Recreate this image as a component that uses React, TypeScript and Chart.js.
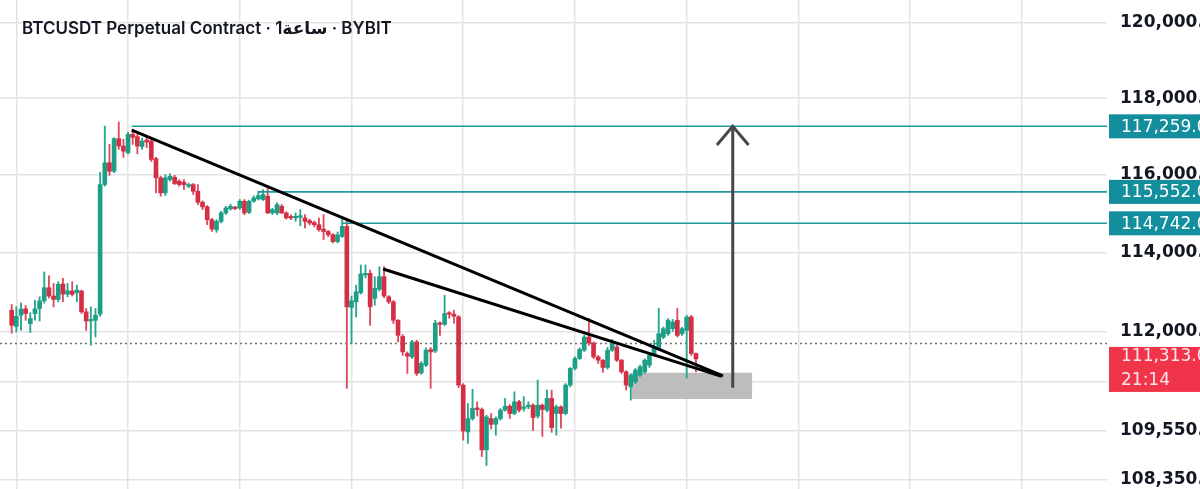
import React, { useEffect, useRef } from 'react';
import { Chart, registerables } from 'chart.js';
Chart.register(...registerables);

// Hourly candles (index = hour)
const opens = [112534,112127,112407,112567,112196,112450,112577,112770,113100,112890,112806,113195,112940,113017,112973,113017,112491,112262,112280,112432,
115741,116307,116087,116936,116742,116569,117049,116988,116730,116900,116873,116412,115915,115527,115871,115930,115827,115801,115697,115741,
115568,115284,115165,114836,114577,114792,115009,115113,115139,115139,115310,115025,115310,115372,115354,115439,115009,115009,115180,115009,
114900,114880,114900,114880,114810,114760,114706,114595,114533,114448,114275,114404,114663,112603,112745,112973,113423,113466,112831,113060,
113380,112872,112745,112280,111876,111448,111364,111735,110968,111159,111547,111510,112211,112178,112465,112432,112363,110664,109509,109839,
110087,110062,109070,109839,109698,109839,110045,110143,109963,110250,110087,110126,110168,109900,110168,110045,110334,109963,110126,109963,
110664,111077,111324,111530,111859,111710,111364,111282,111101,111530,111611,111282,110993,110620,110745,110911,110993,111159,111406,111572,
111859,111943,112069,112280,111943,112026,112363,111448];
const highs = [112679,112618,112710,112650,112470,112780,112872,113500,113405,113212,113253,113340,113212,113253,113169,113042,112577,112618,112577,116061,
117266,116786,116960,117371,116918,117100,117180,117050,116950,116990,116940,116450,115960,116000,116020,115980,115870,115871,115780,115770,
115741,115320,115200,114870,114836,115050,115180,115230,115180,115354,115354,115340,115450,115568,115612,115656,115130,115268,115224,115040,
114960,115009,115095,114965,114850,114800,114880,114965,114560,114480,114520,114880,114836,112890,113169,113677,113677,113550,113380,113634,
113634,112900,112780,112300,111920,111490,111780,111780,111250,111590,111600,112280,112240,112910,112500,112534,112400,110700,110211,110560,
110250,110100,109920,109963,109880,110087,110334,110180,110498,110290,110380,110250,110200,110787,110200,110540,110540,110170,110150,110700,
111100,111364,111590,111901,112323,111740,111400,111300,111600,111800,111650,111300,111020,110950,111077,111160,111320,111450,111776,112577,
112110,112320,112300,112577,112100,112407,112407,111460];
const lows = [111958,111990,112030,112280,111975,112280,112262,112712,112840,112618,112745,112745,112872,112890,112745,112450,112026,111654,111859,112380,
115700,115980,116050,116655,116446,116530,116786,116540,116655,116700,116340,115527,115439,115460,115830,115740,115700,115612,115660,115483,
115224,115095,114706,114533,114510,114750,114965,115080,115090,115095,114965,114990,115280,115340,115330,114990,114965,114965,114990,114850,
114836,114792,114680,114621,114700,114650,114540,114319,114400,114240,114240,114380,110582,111696,112363,112940,113350,112153,112660,113020,
112850,112700,112200,111735,111400,110953,111320,110900,110930,111120,110582,111470,111900,112150,112330,112204,110600,109310,109231,109800,
109900,108909,108693,109580,109430,109800,110020,109839,109930,110000,110020,110080,109550,109850,109400,110000,109500,109430,109600,109930,
110620,111040,111300,111500,111654,111320,111200,110980,111060,111500,111250,110950,110540,110292,110700,110880,110950,111100,111380,111540,
111820,111900,112000,111860,111900,110837,111400,110993];
const closes = [112153,112381,112560,112450,112323,112567,112770,113101,112890,112806,113187,112940,113024,112933,113042,112491,112262,112297,112407,115741,
116307,116087,116936,116742,116611,117049,116970,116742,116873,116847,116393,115915,115527,115915,115956,115767,115741,115741,115741,115568,
115284,115165,114836,114595,114792,115009,115139,115180,115120,115310,115009,115310,115398,115455,115483,115009,115095,115224,115009,114880,
114880,114921,114921,114792,114750,114706,114577,114533,114448,114275,114448,114663,112618,112770,112999,113449,113466,112618,113085,113380,
112890,112745,112280,111901,111488,111381,111735,110953,111201,111530,111488,112211,112178,112450,112432,112381,110664,109533,109839,110087,
110062,109070,109879,109698,109839,110045,110143,109963,110250,110045,110126,110168,109864,110168,110062,110334,109617,110126,109963,110664,
111077,111324,111547,111859,111710,111364,111282,111101,111530,111696,111282,110993,110664,110911,111035,111116,111282,111406,111611,111943,
112069,112280,112237,111901,112069,112363,111448,111313];

const yTickValues = [108350, 109550, 110750, 112000, 114000, 116000, 118000, 120000];
const unlabeledTicks = [110750];
const xGridHours = [1, 25, 49, 73, 97, 121, 145, 169, 193, 217];
const xMin = -2.51;
const xMax = 235.3;
const yMin = 108121;
const yMax = 120620;

const levelPrices = [117259, 115552, 114742];
const levelStartHours = [25.8, 52.9, 71.0];
const lastPrice = 111313;
const countdown = '21:14';
const prevClose = 111700;

const trendA = [{ x: 25.8, y: 117162 }, { x: 152.8, y: 110890 }];
const trendB = [{ x: 79.8, y: 113575 }, { x: 152.5, y: 110880 }];
const zoneHours = [133.2, 159.1];
const zonePrices = [110319, 110970];
const arrowShaft = [{ x: 154.9, y: 110599 }, { x: 154.9, y: 117259 }];
const arrowHead = [{ x: 151.5, y: 116769 }, { x: 154.9, y: 117259 }, { x: 158.3, y: 116769 }];

const titleText = 'BTCUSDT Perpetual Contract · 1ساعة · BYBIT';

const UP = '#1c9f86';
const DOWN = '#d42f44';
const UP_WICK = '#27a58d';
const DOWN_WICK = '#dc4a5d';
const TEAL_LINE = '#1f98a3';
const TEAL_BOX = '#128e9c';

const fmt = (v: number) =>
  v.toLocaleString('en-US', { minimumFractionDigits: 1, maximumFractionDigits: 1 });

export default function App() {
  const ref = useRef<HTMLCanvasElement | null>(null);
  useEffect(() => {
    document.body.style.margin = '0';
    const canvas = ref.current;
    if (!canvas) return;
    const idx = opens.map((_, i) => i);
    const isUp = idx.map((i) => closes[i] >= opens[i]);

    const overlay = {
      id: 'overlay',
      afterDraw(chart: any) {
        const { ctx, chartArea, scales } = chart;
        const ys = scales.y;
        const W = chart.width;
        ctx.save();
        ctx.textBaseline = 'middle';
        ctx.textAlign = 'left';
        levelPrices.forEach((p) => {
          const py = ys.getPixelForValue(p);
          ctx.fillStyle = TEAL_BOX;
          ctx.fillRect(chartArea.right + 2, py - 12, W - chartArea.right - 2, 24);
          ctx.fillStyle = '#ffffff';
          ctx.font = '17px "DejaVu Sans"';
          ctx.fillText(fmt(p), chartArea.right + 14, py + 1);
        });
        const lp = ys.getPixelForValue(lastPrice);
        ctx.fillStyle = '#f0354b';
        ctx.fillRect(chartArea.right + 2, lp - 12, W - chartArea.right - 2, 45);
        ctx.fillStyle = '#ffe6ea';
        ctx.font = '17px "DejaVu Sans"';
        ctx.fillText(fmt(lastPrice), chartArea.right + 14, lp - 2);
        ctx.fillText(countdown, chartArea.right + 14, lp + 22);
        ctx.fillStyle = '#131722';
        ctx.font = '600 17px Inter, "DejaVu Sans"';
        ctx.fillText(titleText, 22, 29);
        ctx.restore();
      },
    };

    const lineBase = { type: 'line', pointRadius: 0, fill: false, tension: 0 } as any;

    const chart = new Chart(canvas, {
      type: 'bar',
      data: {
        datasets: [
          {
            ...lineBase,
            data: [{ x: zoneHours[0], y: zonePrices[1] }, { x: zoneHours[1], y: zonePrices[1] }],
            borderWidth: 0,
            borderColor: 'rgba(0,0,0,0)',
            backgroundColor: '#bdbdbd',
            fill: '+1',
            order: 20,
          },
          {
            ...lineBase,
            data: [{ x: zoneHours[0], y: zonePrices[0] }, { x: zoneHours[1], y: zonePrices[0] }],
            borderWidth: 0,
            borderColor: 'rgba(0,0,0,0)',
            order: 21,
          },
          {
            ...lineBase,
            data: [{ x: xMin, y: prevClose }, { x: xMax, y: prevClose }],
            borderColor: '#707070',
            borderWidth: 1.5,
            borderDash: [2, 3],
            order: 15,
          },
          {
            type: 'bar',
            data: idx.map((i) => ({ x: i, y: [lows[i], highs[i]] })),
            backgroundColor: idx.map((i) => (isUp[i] ? UP_WICK : DOWN_WICK)),
            barThickness: 1.2,
            grouped: false,
            order: 12,
          },
          {
            type: 'bar',
            data: idx.map((i) => ({ x: i, y: [opens[i], closes[i]] })),
            backgroundColor: idx.map((i) => (isUp[i] ? UP : DOWN)),
            barThickness: 4,
            minBarLength: 1.5,
            grouped: false,
            order: 11,
          },
          ...levelPrices.map((p, k) => ({
            ...lineBase,
            data: [{ x: levelStartHours[k], y: p }, { x: xMax, y: p }],
            borderColor: TEAL_LINE,
            borderWidth: 1.6,
            order: 5,
          })),
          { ...lineBase, data: trendA, borderColor: '#000000', borderWidth: 3, order: 3 },
          { ...lineBase, data: trendB, borderColor: '#000000', borderWidth: 3, order: 3 },
          { ...lineBase, data: arrowShaft, borderColor: '#474747', borderWidth: 3, order: 2 },
          { ...lineBase, data: arrowHead, borderColor: '#474747', borderWidth: 3, order: 2 },
        ],
      } as any,
      options: {
        animation: false,
        responsive: false,
        layout: { padding: 0 },
        plugins: { legend: { display: false }, tooltip: { enabled: false }, title: { display: false } },
        scales: {
          x: {
            type: 'linear',
            min: xMin,
            max: xMax,
            offset: false,
            afterBuildTicks: (s: any) => {
              s.ticks = xGridHours.map((v) => ({ value: v }));
            },
            afterFit: (s: any) => {
              s.height = 0;
              s.paddingLeft = 0;
              s.paddingRight = 0;
            },
            ticks: { display: false },
            grid: { color: '#e3e3e3', lineWidth: 1.5, drawTicks: false, offset: false },
            border: { display: false },
          },
          y: {
            type: 'logarithmic',
            position: 'right',
            min: yMin,
            max: yMax,
            afterBuildTicks: (s: any) => {
              s.ticks = yTickValues.map((v) => ({ value: v }));
            },
            afterFit: (s: any) => {
              s.width = 93;
              s.paddingTop = 0;
              s.paddingBottom = 0;
            },
            grid: { color: '#e3e3e3', lineWidth: 1.5, drawTicks: false },
            border: { display: false },
            ticks: {
              autoSkip: false,
              padding: 13,
              color: '#131722',
              font: { family: '"DejaVu Sans"', weight: 'bold', size: 17 },
              callback: (v: any) => (unlabeledTicks.includes(Number(v)) ? '' : fmt(Number(v))),
            },
          },
        },
      } as any,
      plugins: [overlay],
    });
    return () => chart.destroy();
  }, []);
  return <canvas ref={ref} width={1200} height={489} style={{ display: 'block' }} />;
}
